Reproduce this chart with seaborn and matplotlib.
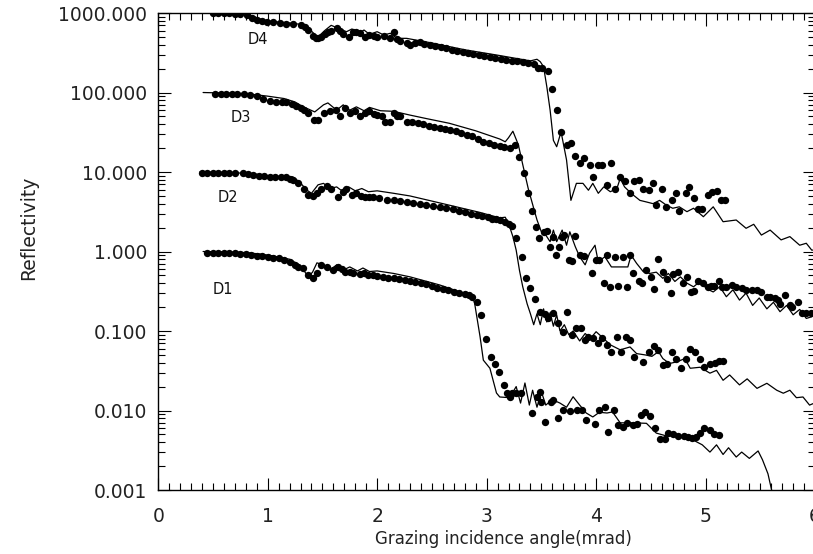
import matplotlib
matplotlib.use('Agg')
import matplotlib.pyplot as plt
import seaborn as sns
from matplotlib.ticker import FormatStrFormatter, LogLocator, MultipleLocator, NullFormatter

sns.set_style('ticks')
plt.rcParams['font.family'] = ['DejaVu Sans']

# reflectivity curves, (angle mrad, reflectivity) pairs, already offset by x10 per sample
d1_fit = [(0.41, 1.0), (0.60, 0.99), (0.80, 0.97), (0.93, 0.93), (1.05, 0.88), (1.20, 0.80),
          (1.29, 0.68), (1.33, 0.58), (1.37, 0.48), (1.41, 0.55), (1.45, 0.72), (1.51, 0.68),
          (1.57, 0.585), (1.63, 0.68), (1.69, 0.585), (1.75, 0.64), (1.82, 0.57), (1.87, 0.62),
          (1.93, 0.56), (2.00, 0.57), (2.15, 0.53), (2.30, 0.48), (2.57, 0.38), (2.82, 0.29),
          (2.86, 0.29), (2.89, 0.225), (2.94, 0.085), (2.97, 0.043), (3.03, 0.034), (3.09, 0.0166),
          (3.12, 0.0148), (3.21, 0.0145), (3.27, 0.020), (3.31, 0.0124), (3.35, 0.0222),
          (3.39, 0.0117), (3.42, 0.018), (3.46, 0.011), (3.50, 0.0173), (3.54, 0.0117),
          (3.60, 0.0137), (3.67, 0.0124), (3.73, 0.011), (3.79, 0.0149), (3.85, 0.0117),
          (3.91, 0.0093), (3.97, 0.0083), (4.03, 0.0095), (4.10, 0.0093), (4.15, 0.0096),
          (4.22, 0.0070), (4.34, 0.0070), (4.46, 0.0069), (4.55, 0.0052), (4.64, 0.0048),
          (4.79, 0.0048), (4.88, 0.0043), (4.97, 0.0037), (5.04, 0.0030), (5.10, 0.0037),
          (5.16, 0.0028), (5.21, 0.0034), (5.28, 0.0026), (5.33, 0.0030), (5.40, 0.0025),
          (5.48, 0.0031), (5.52, 0.0024), (5.57, 0.0016), (5.61, 0.00091)]

d1_data = [(0.45, 0.96), (0.50, 0.96), (0.55, 0.96), (0.60, 0.96), (0.65, 0.95), (0.70, 0.95),
           (0.75, 0.94), (0.80, 0.93), (0.85, 0.91), (0.90, 0.89), (0.95, 0.87), (1.00, 0.85),
           (1.05, 0.84), (1.10, 0.82), (1.15, 0.78), (1.20, 0.74), (1.25, 0.68), (1.28, 0.64),
           (1.32, 0.62), (1.37, 0.51), (1.41, 0.47), (1.45, 0.54), (1.49, 0.68), (1.54, 0.64),
           (1.60, 0.585), (1.64, 0.64), (1.68, 0.60), (1.71, 0.56), (1.75, 0.56), (1.78, 0.54),
           (1.84, 0.52), (1.88, 0.53), (1.92, 0.51), (1.96, 0.50), (2.00, 0.49), (2.05, 0.48),
           (2.10, 0.47), (2.15, 0.46), (2.20, 0.45), (2.25, 0.44), (2.30, 0.43), (2.35, 0.415),
           (2.40, 0.40), (2.45, 0.385), (2.50, 0.366), (2.55, 0.35), (2.60, 0.338), (2.65, 0.325),
           (2.70, 0.31), (2.75, 0.30), (2.80, 0.29), (2.84, 0.28), (2.87, 0.27), (2.91, 0.234),
           (2.95, 0.159), (2.99, 0.079), (3.04, 0.0475), (3.08, 0.0385), (3.11, 0.0308),
           (3.16, 0.021), (3.19, 0.0165), (3.21, 0.0148), (3.23, 0.0165), (3.27, 0.0165),
           (3.31, 0.0165), (3.41, 0.0093), (3.46, 0.0148), (3.49, 0.017), (3.50, 0.0129),
           (3.53, 0.0072), (3.59, 0.0128), (3.61, 0.0137), (3.65, 0.008), (3.70, 0.0101),
           (3.76, 0.0098), (3.83, 0.0101), (3.87, 0.0101), (3.91, 0.0076), (3.99, 0.0068),
           (4.03, 0.0101), (4.08, 0.011), (4.11, 0.0054), (4.16, 0.0101), (4.20, 0.0065),
           (4.25, 0.0062), (4.28, 0.0069), (4.34, 0.0065), (4.37, 0.0068), (4.41, 0.0088),
           (4.45, 0.0097), (4.49, 0.0086), (4.54, 0.006), (4.58, 0.0044), (4.63, 0.0044),
           (4.66, 0.0052), (4.70, 0.0050), (4.75, 0.0048), (4.80, 0.0048), (4.84, 0.0046),
           (4.88, 0.0045), (4.91, 0.0046), (4.95, 0.0052), (4.99, 0.006), (5.04, 0.0057),
           (5.08, 0.005), (5.12, 0.0049)]

d2_fit = [(0.38, 10.0), (0.70, 9.8), (0.90, 9.4), (1.02, 8.9), (1.17, 8.7), (1.23, 8.7),
          (1.29, 7.5), (1.36, 5.9), (1.40, 5.4), (1.46, 6.9), (1.51, 7.2), (1.57, 6.2),
          (1.63, 6.5), (1.67, 5.9), (1.74, 6.5), (1.80, 5.8), (1.86, 6.2), (1.92, 5.65),
          (2.00, 5.8), (2.15, 5.4), (2.30, 5.0), (2.60, 4.0), (2.94, 3.1), (3.12, 2.65),
          (3.17, 2.7), (3.20, 2.26), (3.24, 1.54), (3.27, 1.04), (3.30, 0.58), (3.33, 0.36),
          (3.37, 0.22), (3.40, 0.165), (3.43, 0.12), (3.46, 0.165), (3.49, 0.12), (3.52, 0.19),
          (3.55, 0.13), (3.58, 0.17), (3.61, 0.115), (3.64, 0.16), (3.67, 0.10), (3.71, 0.12),
          (3.75, 0.09), (3.79, 0.10), (3.85, 0.075), (3.90, 0.093), (3.95, 0.081), (4.00, 0.098),
          (4.05, 0.085), (4.13, 0.067), (4.22, 0.058), (4.31, 0.063), (4.37, 0.052), (4.45, 0.050),
          (4.51, 0.048), (4.57, 0.055), (4.61, 0.045), (4.67, 0.039), (4.74, 0.041), (4.81, 0.045),
          (4.86, 0.034), (4.95, 0.035), (5.04, 0.0295), (5.10, 0.032), (5.16, 0.024),
          (5.22, 0.028), (5.31, 0.021), (5.38, 0.025), (5.47, 0.019), (5.56, 0.022),
          (5.65, 0.018), (5.71, 0.0165), (5.77, 0.018), (5.83, 0.0145), (5.89, 0.0148),
          (5.95, 0.0117), (6.00, 0.0125)]

d2_data = [(0.40, 9.8), (0.45, 9.8), (0.50, 9.8), (0.55, 9.8), (0.60, 9.7), (0.65, 9.7),
           (0.70, 9.7), (0.77, 9.6), (0.82, 9.4), (0.87, 9.2), (0.92, 9.0), (0.97, 8.8),
           (1.02, 8.7), (1.07, 8.65), (1.12, 8.6), (1.17, 8.6), (1.20, 8.2), (1.23, 7.9),
           (1.28, 7.2), (1.33, 6.2), (1.37, 5.1), (1.41, 5.0), (1.45, 5.5), (1.49, 6.06),
           (1.54, 6.7), (1.58, 6.06), (1.64, 4.9), (1.69, 5.65), (1.72, 6.06), (1.77, 5.1),
           (1.81, 5.4), (1.85, 5.0), (1.89, 4.9), (1.93, 4.85), (1.96, 4.8), (2.02, 4.65),
           (2.09, 4.5), (2.15, 4.4), (2.21, 4.3), (2.27, 4.24), (2.33, 4.1), (2.39, 4.0),
           (2.45, 3.85), (2.51, 3.75), (2.57, 3.6), (2.63, 3.5), (2.69, 3.4), (2.75, 3.25),
           (2.80, 3.15), (2.86, 3.0), (2.91, 2.9), (2.96, 2.8), (3.01, 2.7), (3.05, 2.6),
           (3.09, 2.55), (3.12, 2.49), (3.17, 2.35), (3.20, 2.2), (3.23, 2.09), (3.27, 1.47),
           (3.32, 0.845), (3.36, 0.47), (3.40, 0.344), (3.44, 0.25), (3.49, 0.172), (3.53, 0.165),
           (3.56, 0.144), (3.61, 0.17), (3.65, 0.127), (3.70, 0.098), (3.73, 0.175), (3.78, 0.089),
           (3.82, 0.108), (3.86, 0.108), (3.90, 0.077), (3.93, 0.085), (3.97, 0.081), (4.02, 0.07),
           (4.05, 0.081), (4.10, 0.067), (4.14, 0.055), (4.19, 0.083), (4.23, 0.054), (4.27, 0.085),
           (4.31, 0.077), (4.35, 0.047), (4.43, 0.041), (4.48, 0.054), (4.53, 0.065), (4.57, 0.058),
           (4.61, 0.037), (4.65, 0.039), (4.69, 0.055), (4.73, 0.044), (4.78, 0.034), (4.82, 0.045),
           (4.86, 0.059), (4.90, 0.055), (4.95, 0.044), (4.99, 0.035), (5.04, 0.039), (5.09, 0.04),
           (5.12, 0.042), (5.16, 0.042)]

d3_fit = [(0.41, 100), (0.80, 97), (1.00, 90), (1.15, 84), (1.25, 76), (1.31, 68), (1.36, 63),
          (1.43, 57), (1.51, 70), (1.55, 74), (1.63, 60), (1.69, 70), (1.75, 60), (1.81, 66),
          (1.88, 59), (1.93, 65), (2.03, 59), (2.15, 58), (2.30, 52), (2.45, 47), (2.66, 41),
          (2.90, 33), (3.12, 26), (3.17, 24), (3.20, 27), (3.24, 32.6), (3.29, 22), (3.33, 12.4),
          (3.38, 6.2), (3.43, 3.5), (3.46, 2.5), (3.50, 1.77), (3.53, 1.69), (3.58, 1.33),
          (3.61, 1.86), (3.64, 1.33), (3.69, 1.86), (3.73, 1.2), (3.76, 1.77), (3.81, 1.15),
          (3.85, 0.86), (3.90, 0.68), (3.94, 0.95), (3.99, 1.2), (4.02, 0.74), (4.08, 0.86),
          (4.14, 0.64), (4.29, 0.64), (4.32, 0.9), (4.37, 0.71), (4.43, 0.56), (4.49, 0.53),
          (4.55, 0.55), (4.61, 0.46), (4.66, 0.53), (4.72, 0.42), (4.77, 0.48), (4.83, 0.40),
          (4.89, 0.36), (4.95, 0.42), (5.01, 0.34), (5.07, 0.31), (5.13, 0.36), (5.19, 0.27),
          (5.25, 0.33), (5.31, 0.245), (5.37, 0.30), (5.43, 0.21), (5.49, 0.26), (5.56, 0.19),
          (5.62, 0.23), (5.68, 0.175), (5.74, 0.21), (5.80, 0.16), (5.86, 0.187), (5.92, 0.144),
          (5.97, 0.151)]

d3_data = [(0.52, 97), (0.57, 97), (0.62, 96), (0.67, 96), (0.72, 95), (0.78, 95), (0.84, 93),
           (0.90, 90), (0.96, 84), (1.02, 78), (1.08, 77), (1.13, 76), (1.17, 75), (1.22, 72),
           (1.26, 68), (1.30, 63), (1.33, 60), (1.37, 55), (1.42, 45), (1.46, 45), (1.51, 55),
           (1.57, 58), (1.62, 60), (1.66, 50), (1.71, 63), (1.75, 55), (1.80, 58), (1.84, 50),
           (1.89, 55), (1.93, 58), (1.97, 54), (2.00, 52), (2.04, 50), (2.07, 43), (2.12, 43),
           (2.15, 55), (2.18, 50), (2.21, 50), (2.27, 43), (2.32, 43), (2.37, 41), (2.42, 40),
           (2.47, 38), (2.52, 37), (2.57, 36), (2.62, 35), (2.67, 34), (2.72, 33), (2.77, 31),
           (2.82, 29), (2.87, 28), (2.92, 26), (2.97, 24), (3.02, 23), (3.07, 22), (3.12, 21),
           (3.16, 20.5), (3.21, 20), (3.26, 22), (3.30, 15.5), (3.34, 9.7), (3.38, 5.5),
           (3.41, 3.2), (3.45, 2.05), (3.48, 1.47), (3.52, 1.77), (3.55, 1.80), (3.58, 1.15),
           (3.61, 1.54), (3.63, 0.9), (3.66, 1.15), (3.69, 1.54), (3.71, 1.6), (3.75, 0.78),
           (3.78, 0.76), (3.81, 1.57), (3.85, 0.9), (3.89, 0.88), (3.96, 0.53), (4.00, 0.78),
           (4.03, 0.78), (4.07, 0.40), (4.10, 0.9), (4.13, 0.36), (4.17, 0.86), (4.20, 0.37),
           (4.25, 0.86), (4.28, 0.36), (4.31, 0.9), (4.34, 0.53), (4.39, 0.42), (4.42, 0.40),
           (4.46, 0.585), (4.50, 0.48), (4.53, 0.335), (4.57, 0.80), (4.61, 0.56), (4.65, 0.45),
           (4.68, 0.30), (4.70, 0.52), (4.75, 0.56), (4.79, 0.40), (4.83, 0.48), (4.87, 0.31),
           (4.89, 0.32), (4.93, 0.42), (4.98, 0.40), (5.02, 0.36), (5.05, 0.37), (5.08, 0.37),
           (5.12, 0.43), (5.15, 0.36), (5.19, 0.36), (5.24, 0.38), (5.28, 0.36), (5.33, 0.345),
           (5.37, 0.33), (5.42, 0.33), (5.47, 0.33), (5.51, 0.31), (5.56, 0.27), (5.59, 0.27),
           (5.63, 0.26), (5.66, 0.245), (5.68, 0.22), (5.73, 0.28), (5.77, 0.21), (5.79, 0.20),
           (5.84, 0.23), (5.88, 0.17), (5.92, 0.17), (5.96, 0.167)]

d4_fit = [(0.45, 1000), (0.80, 985), (0.88, 900), (0.95, 820), (1.05, 780), (1.20, 750),
          (1.30, 720), (1.37, 650), (1.42, 556), (1.46, 500), (1.52, 600), (1.58, 700),
          (1.66, 630), (1.72, 582), (1.77, 630), (1.83, 556), (1.88, 611), (1.93, 540),
          (2.00, 582), (2.06, 529), (2.12, 556), (2.18, 481), (2.27, 480), (2.50, 420),
          (2.80, 345), (3.10, 295), (3.40, 250), (3.46, 262), (3.49, 244), (3.52, 211),
          (3.55, 118), (3.58, 60), (3.61, 25), (3.64, 20.8), (3.68, 32), (3.73, 14.2),
          (3.77, 4.4), (3.82, 7.2), (3.88, 7.2), (3.93, 5.9), (3.97, 7.2), (4.02, 5.4),
          (4.07, 6.5), (4.13, 5.65), (4.19, 6.2), (4.22, 8.3), (4.26, 6.5), (4.32, 5.4),
          (4.40, 4.4), (4.46, 4.2), (4.52, 4.0), (4.58, 4.4), (4.64, 3.85), (4.70, 3.5),
          (4.76, 3.65), (4.83, 3.17), (4.89, 3.5), (4.98, 2.74), (5.07, 3.65), (5.16, 2.37),
          (5.28, 2.49), (5.37, 1.96), (5.44, 2.2), (5.51, 1.61), (5.59, 1.86), (5.69, 1.40),
          (5.77, 1.54), (5.86, 1.2), (5.92, 1.27), (5.97, 1.04), (6.00, 1.05)]

d4_data = [(0.50, 990), (0.55, 990), (0.60, 990), (0.65, 990), (0.70, 985), (0.75, 975),
           (0.81, 944), (0.86, 870), (0.90, 817), (0.95, 790), (0.99, 778), (1.05, 760),
           (1.11, 742), (1.17, 730), (1.23, 720), (1.30, 706), (1.34, 670), (1.37, 611),
           (1.41, 520), (1.44, 490), (1.46, 481), (1.49, 500), (1.52, 540), (1.55, 570),
           (1.58, 594), (1.63, 642), (1.66, 600), (1.69, 540), (1.74, 503), (1.78, 582),
           (1.81, 570), (1.84, 556), (1.89, 503), (1.93, 529), (1.97, 520), (2.00, 503),
           (2.06, 518), (2.12, 489), (2.15, 582), (2.18, 470), (2.21, 444), (2.27, 416),
           (2.30, 396), (2.35, 420), (2.39, 436), (2.43, 410), (2.48, 395), (2.53, 385),
           (2.58, 370), (2.63, 360), (2.68, 345), (2.73, 335), (2.78, 322), (2.83, 312),
           (2.88, 302), (2.93, 295), (2.98, 288), (3.03, 280), (3.08, 272), (3.13, 265),
           (3.18, 258), (3.23, 252), (3.28, 246), (3.33, 240), (3.38, 236), (3.43, 230),
           (3.47, 201), (3.51, 205), (3.56, 188), (3.60, 110), (3.64, 60), (3.68, 32),
           (3.73, 22), (3.77, 23), (3.81, 16), (3.85, 12.9), (3.89, 14.9), (3.94, 12.2),
           (3.97, 8.7), (4.02, 12.2), (4.05, 12.2), (4.10, 6.9), (4.14, 12.9), (4.17, 6.1),
           (4.22, 8.7), (4.26, 7.6), (4.31, 5.4), (4.35, 7.6), (4.39, 7.9), (4.43, 6.2),
           (4.48, 5.9), (4.52, 7.2), (4.55, 3.85), (4.60, 6.2), (4.64, 3.65), (4.69, 4.5),
           (4.73, 5.5), (4.76, 3.26), (4.82, 5.5), (4.85, 6.4), (4.89, 4.65), (4.93, 3.4),
           (4.97, 3.4), (5.02, 5.1), (5.06, 5.65), (5.10, 5.8), (5.14, 4.5), (5.18, 4.5)]

sample_names = ['D1', 'D2', 'D3', 'D4']
label_pos = [(0.59, 0.33), (0.64, 4.85), (0.75, 48), (0.91, 470)]
fits = [d1_fit, d2_fit, d3_fit, d4_fit]
measured = [d1_data, d2_data, d3_data, d4_data]

fig = plt.figure(figsize=(8.13, 5.54), dpi=100)
ax = fig.add_axes([0.1946, 0.1155, 0.8079, 0.861])
ax.set_yscale('log')

for fit, meas in zip(fits, measured):
    fx = [p[0] for p in fit]
    fy = [p[1] for p in fit]
    sns.lineplot(x=fx, y=fy, ax=ax, color='black', linewidth=0.9,
                 estimator=None, sort=False)
    mx = [p[0] for p in meas]
    my = [p[1] for p in meas]
    sns.scatterplot(x=mx, y=my, ax=ax, color='black', s=28, linewidth=0, zorder=3)

for name, (lx, ly) in zip(sample_names, label_pos):
    ax.text(lx, ly, name, fontsize=10.5, ha='center', va='center', color='#111111')

ax.set_xlim(0, 6)
ax.set_ylim(0.001, 1000)
ax.xaxis.set_major_locator(MultipleLocator(1))
ax.xaxis.set_minor_locator(MultipleLocator(0.1))
ax.yaxis.set_major_locator(LogLocator(base=10, numticks=20))
ax.yaxis.set_minor_locator(LogLocator(base=10, subs=range(2, 10), numticks=100))
ax.yaxis.set_major_formatter(FormatStrFormatter('%.3f'))
ax.yaxis.set_minor_formatter(NullFormatter())

ax.tick_params(which='both', direction='in', top=True, right=True, width=0.8, colors='black')
ax.tick_params(which='major', length=9, labelsize=13.5, labelcolor='#222222')
ax.tick_params(which='minor', length=5)
ax.tick_params(axis='x', which='major', pad=12)
ax.tick_params(axis='y', which='major', pad=8)
for sp in ax.spines.values():
    sp.set_linewidth(1.0)
    sp.set_color('black')

ax.set_xlabel('Grazing incidence angle(mrad)', fontsize=12, color='#222222')
ax.set_ylabel('Reflectivity', fontsize=13.5, color='#222222')
ax.xaxis.set_label_coords(0.525, -0.083)
ax.yaxis.set_label_coords(-0.183, 0.549)

fig.savefig('out.png', dpi=100)
